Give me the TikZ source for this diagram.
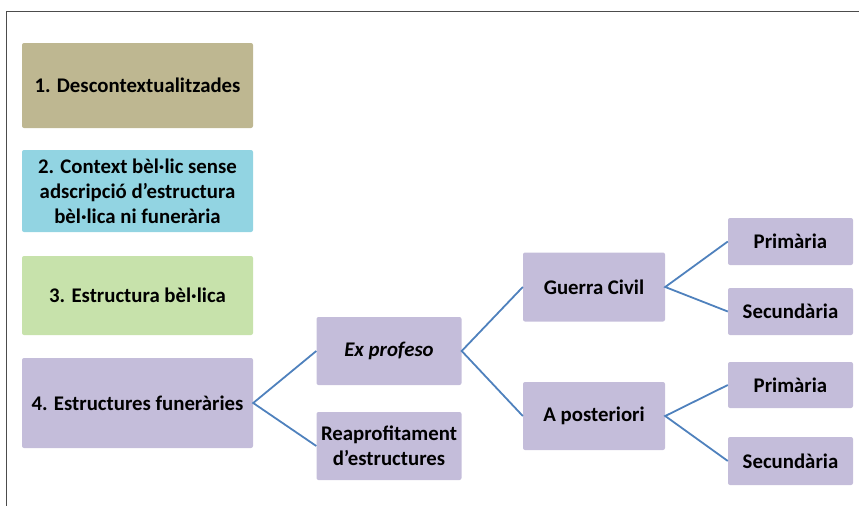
\documentclass[tikz,border=0pt]{standalone}
\usepackage{fontspec}
\setmainfont{Carlito}
\begin{document}
\begin{tikzpicture}[x=1pt,y=-1pt,
  box/.style={rounded corners=2pt, inner sep=0pt, align=center, font=\fontsize{20.8}{25}\selectfont\bfseries},
  lnk/.style={draw=linkblue, line width=1.8pt},
  frm/.style={draw=black!70, line width=0.9pt}]
\definecolor{olivebox}{RGB}{190,183,145}
\definecolor{cyanbox}{RGB}{146,212,226}
\definecolor{greenbox}{RGB}{199,226,171}
\definecolor{purplebox}{RGB}{196,189,218}
\definecolor{linkblue}{RGB}{79,129,189}
\useasboundingbox (0,0) rectangle (859,506);
\coordinate (fa) at (859,11);
\coordinate (fb) at (6,11);
\coordinate (fc) at (6,506);
\draw[frm] (fa) -- (fb) -- (fc);
% left column
\node[box, fill=olivebox, minimum width=231pt, minimum height=85pt] (b1) at (137.5,85.5) {1. Descontextualitzades};
\node[box, fill=cyanbox, minimum width=231pt, minimum height=82pt] (b2) at (137.5,191) {2. Context bèl·lic sense\\adscripció d’estructura\\bèl·lica ni funerària};
\node[box, fill=greenbox, minimum width=231pt, minimum height=79pt] (b3) at (137.5,295.5) {3. Estructura bèl·lica};
\node[box, fill=purplebox, minimum width=231pt, minimum height=90pt] (b4) at (137.5,403) {4. Estructures funeràries};
% second column
\node[box, fill=purplebox, minimum width=145pt, minimum height=68pt] (ex) at (389,351) {\itshape Ex profeso};
\node[box, fill=purplebox, minimum width=145pt, minimum height=68pt] (re) at (389,446) {Reaprofitament\\d’estructures};
% third column
\node[box, fill=purplebox, minimum width=142pt, minimum height=69pt] (gc) at (594,287) {Guerra Civil};
\node[box, fill=purplebox, minimum width=142pt, minimum height=68pt] (ap) at (594,416) {A posteriori};
% fourth column
\node[box, fill=purplebox, minimum width=125pt, minimum height=47pt] (p1) at (790.5,241.5) {Primària};
\node[box, fill=purplebox, minimum width=125pt, minimum height=47pt] (s1) at (790.5,311.5) {Secundària};
\node[box, fill=purplebox, minimum width=125pt, minimum height=46pt] (p2) at (790.5,385) {Primària};
\node[box, fill=purplebox, minimum width=125pt, minimum height=48pt] (s2) at (790.5,461) {Secundària};
% connectors
\draw[lnk] (ex.west) -- (b4.east) -- (re.west);
\draw[lnk] (gc.west) -- (ex.east) -- (ap.west);
\draw[lnk] (p1.west) -- (gc.east) -- (s1.west);
\draw[lnk] (p2.west) -- (ap.east) -- (s2.west);
\end{tikzpicture}
\end{document}
